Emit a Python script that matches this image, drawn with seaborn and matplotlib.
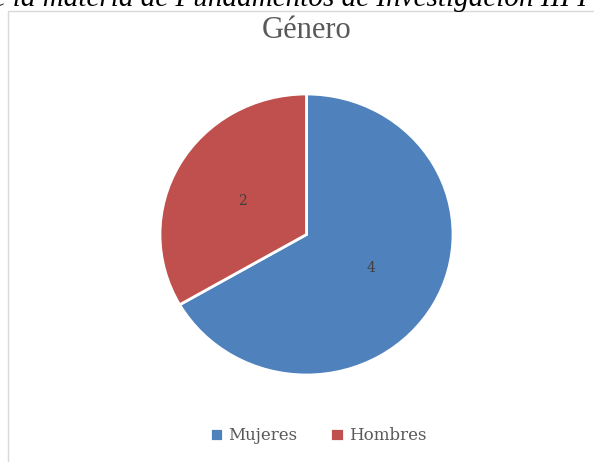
import matplotlib
matplotlib.use("Agg")
import matplotlib.pyplot as plt
from matplotlib.patches import Rectangle
import seaborn as sns

categories = ["Mujeres", "Hombres"]
values = [4, 2]
colors = ["#4F81BD", "#C0504D"]
title = "Género"
caption = "de la materia de Fundamentos de Investigación III I"

sns.set_theme(style="white")
plt.rcParams['font.family'] = ['DejaVu Serif']

W, H = 594, 462
fig = plt.figure(figsize=(W / 100, H / 100), dpi=100)
fig.patch.set_facecolor("white")

# chart frame
fig.patches.append(Rectangle((8 / W, -0.1), 1.2, 1 - 11 / H + 0.1, transform=fig.transFigure,
                             facecolor="none", edgecolor="#D9D9D9", lw=1.0, zorder=0))

# clipped caption above chart
fig.text(-22 / W, 1 - 6 / H, caption, fontsize=21, style="italic",
         family="Liberation Serif", color="black", ha="left", va="baseline")

cx, cy, rx, ry = 306.5, 462 - 234.5, 146.5, 140.5
ax = fig.add_axes([(cx - rx) / W, (cy - ry) / H, 2 * rx / W, 2 * ry / H])
wedges, texts = ax.pie(values, colors=colors, startangle=90, counterclock=False,
                       labels=[str(v) for v in values], labeldistance=0.47,
                       wedgeprops=dict(edgecolor="white", linewidth=2),
                       textprops=dict(color="#404040", fontsize=10))
ax.set_aspect("auto")
ax.set_xlim(-1.0, 1.0)
ax.set_ylim(-1.0, 1.0)
ax.set_zorder(2)

fig.text(cx / W, 1 - 30 / H, title, ha="center", va="center", fontsize=22,
         family="Liberation Serif", color="#595959")

fig.legend(wedges, categories, loc="center", bbox_to_anchor=(318 / W, 1 - 436 / H), ncol=2,
           frameon=False, fontsize=12, handlelength=0.8, handleheight=0.8,
           handletextpad=0.3, columnspacing=2.0, labelcolor="#595959")

fig.savefig("out.png", dpi=100)
